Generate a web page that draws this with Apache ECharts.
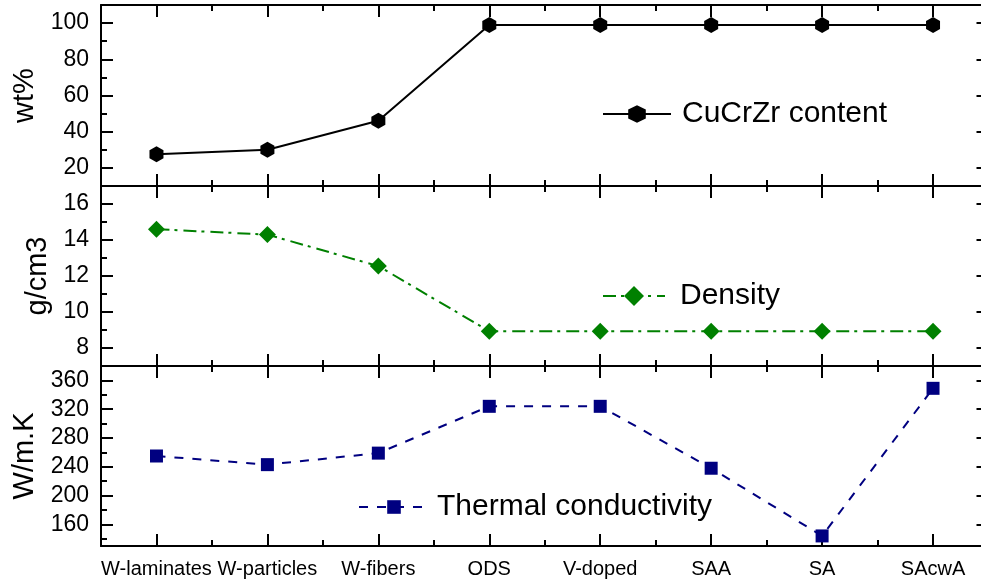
<!DOCTYPE html>
<html><head><meta charset="utf-8">
<script src="https://cdn.jsdelivr.net/npm/echarts@6/dist/echarts.min.js"></script>
<style>html,body{margin:0;padding:0;background:#fff}#c{width:981px;height:582px}</style>
</head><body><div id="c"></div>
<script>
// ---- data ----
const categories = ['W-laminates','W-particles','W-fibers','ODS','V-doped','SAA','SA','SAcwA'];
const cucrzrContent = [27.5, 30, 46, 99, 99, 99, 99, 99];
const density = [14.6, 14.3, 12.55, 8.93, 8.93, 8.93, 8.93, 8.93];
const thermalConductivity = [255, 243, 259, 324, 324, 238, 144, 349];
const wtTicks = [20, 40, 60, 80, 100];
const wtMinorTicks = [30, 50, 70, 90];
const densityTicks = [8, 10, 12, 14, 16];
const densityMinorTicks = [9, 11, 13, 15];
const tcTicks = [160, 200, 240, 280, 320, 360];
const tcMinorTicks = [140, 180, 220, 260, 300, 340];
const seriesNames = ['CuCrZr content', 'Density', 'Thermal conductivity'];
const axisNames = ['wt%', 'g/cm3', 'W/m.K'];

// ---- presentation ----
const FONT = '"Liberation Sans", Arial, Helvetica, sans-serif';
const HEX = 'path://M0,-1L0.866,-0.5L0.866,0.5L0,1L-0.866,0.5L-0.866,-0.5Z';
const panels = [
  {top:5, height:181, min:10, max:110, major:wtTicks, minor:wtMinorTicks, nameGap:58, data:cucrzrContent,
   color:'#000000', symbol:HEX, symbolSize:[14,16], type:'solid'},
  {top:186, height:180, min:7, max:17, major:densityTicks, minor:densityMinorTicks, nameGap:49, data:density,
   color:'#008000', symbol:'diamond', symbolSize:17, type:[13,5,3,6]},
  {top:366, height:180, min:130, max:380, major:tcTicks, minor:tcMinorTicks, nameGap:61, data:thermalConductivity,
   color:'#000080', symbol:'rect', symbolSize:13, type:[9,9]}
];
const legendPos = [
  {left:602, top:99, itemWidth:68, itemHeight:22, pad:6},
  {left:602, top:281, itemWidth:62, itemHeight:25, pad:10},
  {left:358, top:492, itemWidth:70, itemHeight:17, pad:3}
];

const line = {show:true, lineStyle:{color:'#000', width:2}};
const grids = [], xAxes = [], yAxes = [], series = [], legends = [];
panels.forEach((p, i) => {
  grids.push({left:101, width:887.5, top:p.top, height:p.height, show:false, outerBoundsMode:'none', containLabel:false});
  const xBase = {type:'category', gridIndex:i, data:categories, boundaryGap:true, splitLine:{show:false}};
  xAxes.push(Object.assign({}, xBase, {position:'bottom', axisLine:line,
    axisTick:{show:true, inside:true, alignWithLabel:true, interval:0, length:12, lineStyle:{color:'#000', width:2}},
    axisLabel:{show:i===2, interval:0, fontSize:20, fontFamily:FONT, color:'#000', margin:13}}));
  xAxes.push(Object.assign({}, xBase, {position:'bottom', axisLine:{show:false},
    axisTick:{show:true, inside:true, alignWithLabel:false, interval:0, length:6, lineStyle:{color:'#000', width:2}},
    axisLabel:{show:false}}));
  xAxes.push(Object.assign({}, xBase, {position:'top', axisLine:line,
    axisTick:{show:true, inside:true, alignWithLabel:true, interval:0, length:12, lineStyle:{color:'#000', width:2}},
    axisLabel:{show:false}}));
  xAxes.push(Object.assign({}, xBase, {position:'top', axisLine:{show:false},
    axisTick:{show:true, inside:true, alignWithLabel:false, interval:0, length:6, lineStyle:{color:'#000', width:2}},
    axisLabel:{show:false}}));

  const yBase = {type:'value', gridIndex:i, min:p.min, max:p.max, splitLine:{show:false}};
  yAxes.push(Object.assign({}, yBase, {position:'left', axisLine:line,
    axisTick:{show:true, inside:true, length:12, customValues:p.major, lineStyle:{color:'#000', width:2}},
    axisLabel:{show:true, customValues:p.major, fontSize:23, fontFamily:FONT, color:'#000', margin:12},
    name:axisNames[i], nameLocation:'middle', nameRotate:90, nameGap:p.nameGap,
    nameTextStyle:{fontSize:29, fontFamily:FONT, color:'#000'}}));
  yAxes.push(Object.assign({}, yBase, {position:'left', axisLine:{show:false},
    axisTick:{show:true, inside:true, length:6, customValues:p.minor, lineStyle:{color:'#000', width:2}},
    axisLabel:{show:false}}));
  yAxes.push(Object.assign({}, yBase, {position:'right', axisLine:line,
    axisTick:{show:true, inside:true, length:12, customValues:p.major, lineStyle:{color:'#000', width:2}},
    axisLabel:{show:false}}));
  yAxes.push(Object.assign({}, yBase, {position:'right', axisLine:{show:false},
    axisTick:{show:true, inside:true, length:6, customValues:p.minor, lineStyle:{color:'#000', width:2}},
    axisLabel:{show:false}}));

  series.push({type:'line', name:seriesNames[i], xAxisIndex:4*i, yAxisIndex:4*i, data:p.data,
    symbol:p.symbol, symbolSize:p.symbolSize, showSymbol:true, z:5,
    lineStyle:{color:p.color, width:2, type:p.type},
    itemStyle:{color:p.color, borderWidth:0}});

  const L = legendPos[i];
  legends.push({data:[seriesNames[i]], left:L.left, top:L.top, padding:0, itemWidth:L.itemWidth, itemHeight:L.itemHeight,
    selectedMode:false,
    textStyle:{fontSize:30, lineHeight:30, fontFamily:FONT, color:'#000', padding:[0,0,0,L.pad]}});
});

const chart = echarts.init(document.getElementById('c'), null, {renderer:'canvas'});
chart.setOption({animation:false, backgroundColor:'#fff', grid:grids, xAxis:xAxes, yAxis:yAxes,
  series:series, legend:legends});
</script></body></html>
